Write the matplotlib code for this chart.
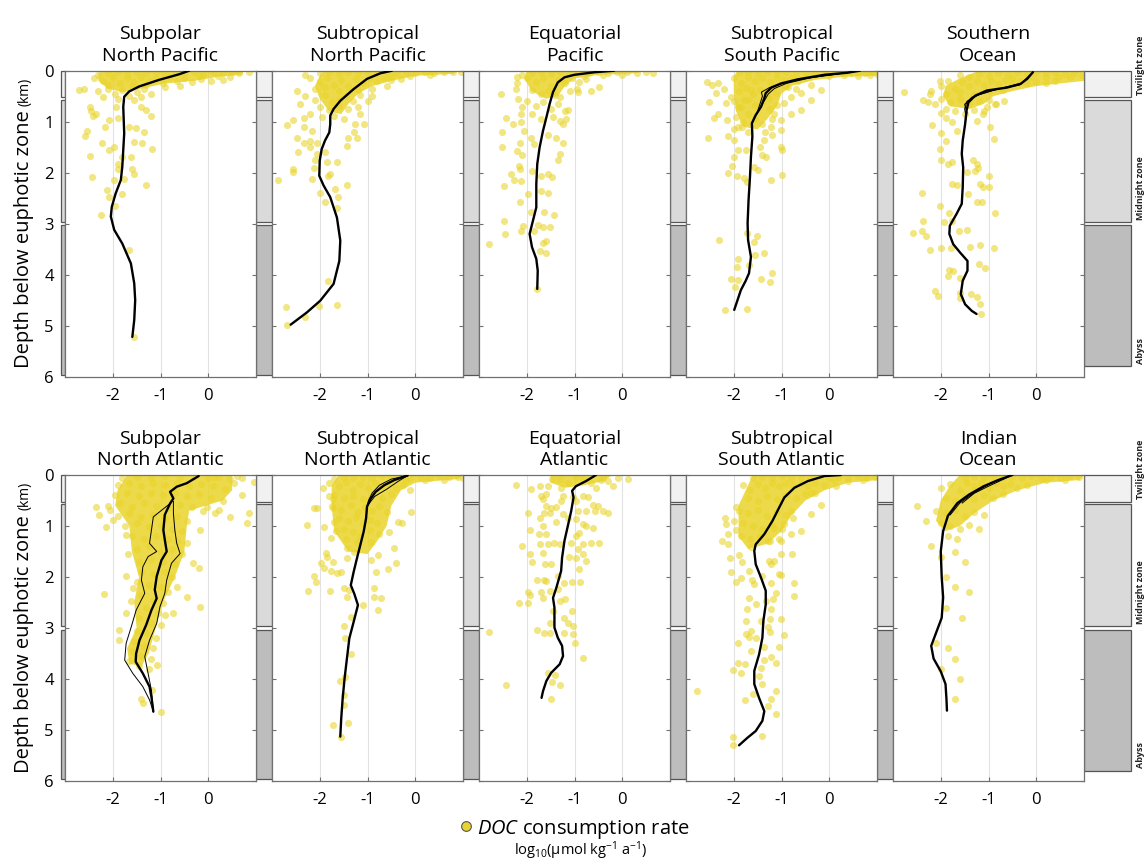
import matplotlib
matplotlib.use("Agg")
import matplotlib.pyplot as plt
from matplotlib.patches import Rectangle
from matplotlib.lines import Line2D

plt.rcParams['font.family'] = ['Open Sans', 'DejaVu Sans']
plt.rcParams['axes.unicode_minus'] = False
plt.rcParams['mathtext.fontset'] = 'custom'
plt.rcParams['mathtext.rm'] = 'Open Sans'
plt.rcParams['mathtext.it'] = 'Open Sans:italic'

# ---- data: (log10 rate, depth km) ----
titles = ['Subpolar\nNorth Pacific', 'Subtropical\nNorth Pacific', 'Equatorial\nPacific',
          'Subtropical\nSouth Pacific', 'Southern\nOcean',
          'Subpolar\nNorth Atlantic', 'Subtropical\nNorth Atlantic', 'Equatorial\nAtlantic',
          'Subtropical\nSouth Atlantic', 'Indian\nOcean']

xticks = [-2, -1, 0]
yticks = [0, 1, 2, 3, 4, 5, 6]

zone_names = ['Twilight zone', 'Midnight zone', 'Abyss']
zone_top = [0.0, 0.57, 3.03]
zone_bottom = [0.52, 2.97, 5.97]
zone_colors = ['#f1f1f1', '#dadada', '#bdbdbd']

spnp_line = [(-0.40, 0.0), (-0.61, 0.07), (-1.03, 0.18), (-1.45, 0.31), (-1.66, 0.41), (-1.76, 0.51),
             (-1.78, 0.71), (-1.76, 1.23), (-1.80, 1.88), (-1.83, 2.14), (-1.94, 2.41), (-2.02, 2.67),
             (-2.04, 2.86), (-1.97, 3.12), (-1.80, 3.39), (-1.62, 3.78), (-1.55, 4.17), (-1.53, 4.50),
             (-1.55, 4.89), (-1.59, 5.22)]
spnp_thin = []
spnp_core = [(-2.2, 0.0), (0.75, 0.0), (0.7, 0.08), (0.2, 0.12), (-0.3, 0.2), (-0.9, 0.25), (-1.4, 0.35),
             (-1.8, 0.42), (-2.1, 0.35), (-2.3, 0.2), (-2.3, 0.05)]
spnp_pts = [(-2.3, 0.08), (-2.1, 0.05), (-1.9, 0.03), (-1.7, 0.06), (-1.5, 0.02), (-1.3, 0.05), (-1.1, 0.03),
            (-0.9, 0.06), (-0.7, 0.02), (-0.5, 0.05), (-0.3, 0.03), (-0.1, 0.06), (0.1, 0.02), (0.3, 0.05),
            (0.5, 0.03), (0.65, 0.04), (0.85, 0.02), (-0.2, 0.1), (0.2, 0.1), (0.45, 0.12),
            (-2.4, 0.15), (-2.2, 0.2), (-2.0, 0.12), (-1.85, 0.25), (-1.7, 0.15), (-1.55, 0.22), (-1.4, 0.12),
            (-1.25, 0.2), (-1.1, 0.15), (-0.95, 0.25), (-0.8, 0.12), (-0.65, 0.2), (-0.5, 0.15), (-0.35, 0.22),
            (-0.15, 0.17), (0.05, 0.2), (0.3, 0.18), (-2.1, 0.28), (-1.6, 0.3), (-1.3, 0.28), (-0.9, 0.32),
            (-0.6, 0.3), (-2.6, 0.35), (-2.3, 0.4), (-2.1, 0.35), (-1.95, 0.45), (-1.8, 0.38), (-1.65, 0.5),
            (-1.5, 0.42), (-1.35, 0.36), (-1.2, 0.45), (-2.2, 0.52), (-1.9, 0.55), (-1.55, 0.58), (-1.4, 0.52),
            (-2.7, 0.38),
            (-2.48, 0.72), (-2.46, 0.80), (-2.41, 0.89), (-2.54, 1.18), (-2.58, 1.28), (-2.23, 1.41),
            (-1.97, 1.50), (-2.48, 1.67), (-2.08, 1.56), (-1.66, 1.10), (-1.52, 1.13), (-1.34, 1.20),
            (-1.20, 0.89), (-1.31, 0.77), (-1.41, 0.72), (-1.94, 0.71), (-1.90, 0.92), (-2.08, 0.97),
            (-1.17, 1.54), (-1.55, 1.39), (-1.38, 1.42), (-1.80, 1.69), (-1.62, 1.69), (-1.88, 1.82),
            (-1.90, 1.92), (-1.59, 1.93), (-1.55, 2.03), (-2.43, 2.08), (-1.97, 2.14), (-1.76, 2.13),
            (-1.31, 2.25), (-2.11, 2.34), (-2.08, 2.47), (-1.81, 2.41), (-2.25, 2.83), (-1.95, 2.65),
            (-1.66, 3.52), (-1.55, 5.22), (-2.36, 0.84), (-2.16, 1.10)]

stnp_line = [(-0.49, 0.0), (-0.73, 0.05), (-1.01, 0.16), (-1.29, 0.36), (-1.57, 0.59), (-1.71, 0.75),
             (-1.78, 0.88), (-1.78, 1.05), (-1.80, 1.21), (-1.89, 1.37), (-1.96, 1.54), (-2.0, 1.76),
             (-2.01, 2.06), (-1.92, 2.25), (-1.78, 2.48), (-1.64, 2.88), (-1.57, 3.33), (-1.59, 3.73),
             (-1.71, 4.18), (-1.99, 4.51), (-2.27, 4.74), (-2.61, 4.98)]
stnp_thin = []
stnp_core = [(-1.9, 0.0), (0.9, 0.0), (0.8, 0.06), (0.0, 0.1), (-0.5, 0.2), (-0.9, 0.3), (-1.2, 0.45),
             (-1.4, 0.65), (-1.55, 0.85), (-1.8, 0.8), (-2.0, 0.55), (-2.1, 0.3), (-2.0, 0.1)]
stnp_pts = [(-2.3, 0.08), (-2.0, 0.05), (-1.8, 0.03), (-1.6, 0.06), (-1.4, 0.02), (-1.2, 0.05), (-1.0, 0.03),
            (-0.8, 0.05), (-0.6, 0.02), (-0.4, 0.04), (-0.2, 0.02), (0.0, 0.05), (0.2, 0.02), (0.4, 0.04),
            (0.6, 0.02), (0.8, 0.03), (0.95, 0.02), (-0.5, 0.1), (-0.1, 0.1), (0.3, 0.08),
            (-2.2, 0.15), (-2.0, 0.22), (-1.85, 0.14), (-1.7, 0.28), (-1.55, 0.18), (-1.4, 0.3), (-1.25, 0.16),
            (-1.1, 0.25), (-0.95, 0.15), (-0.8, 0.2), (-0.65, 0.14), (-0.5, 0.18), (-0.3, 0.16), (-0.6, 0.3),
            (-0.9, 0.35), (-1.2, 0.38), (-1.6, 0.4), (-2.1, 0.35), (-1.9, 0.32),
            (-2.3, 0.5), (-2.1, 0.58), (-1.9, 0.48), (-1.75, 0.62), (-1.6, 0.55), (-1.45, 0.5), (-1.3, 0.6),
            (-1.15, 0.48), (-2.0, 0.72), (-1.8, 0.78), (-1.6, 0.7), (-1.4, 0.75), (-1.2, 0.72), (-2.2, 0.85),
            (-1.95, 0.9), (-1.7, 0.88), (-1.5, 0.95), (-1.0, 0.6), (-0.9, 0.5),
            (-2.68, 1.06), (-2.57, 0.97), (-2.48, 1.32), (-2.34, 1.41), (-2.20, 1.37), (-2.06, 1.41),
            (-2.20, 1.50), (-2.45, 1.60), (-2.06, 1.63), (-1.89, 1.60), (-2.57, 1.93), (-2.57, 1.99),
            (-2.87, 2.14), (-2.13, 1.90), (-2.10, 1.76), (-1.85, 1.80), (-1.64, 1.80), (-1.78, 2.03),
            (-1.82, 2.06), (-2.17, 2.12), (-1.43, 2.25), (-1.68, 2.32), (-1.99, 2.39), (-1.61, 2.48),
            (-1.89, 2.58), (-1.64, 2.70), (-2.31, 4.82), (-2.71, 4.64), (-2.01, 4.61), (-1.64, 4.59),
            (-1.82, 4.12), (-2.69, 4.99), (-1.40, 1.31), (-1.21, 1.32), (-1.26, 1.05), (-1.08, 1.05),
            (-1.15, 0.85), (-1.29, 1.21), (-1.43, 1.47), (-2.34, 1.11), (-2.17, 1.18), (-2.41, 0.65),
            (-2.34, 0.92), (-2.48, 0.39)]

eqp_line = [(-0.17, 0.0), (-0.58, 0.03), (-1.0, 0.08), (-1.21, 0.13), (-1.35, 0.23), (-1.45, 0.42),
            (-1.52, 0.65), (-1.59, 0.92), (-1.66, 1.18), (-1.73, 1.50), (-1.78, 1.83), (-1.80, 2.22),
            (-1.80, 2.68), (-1.87, 2.94), (-1.94, 3.20), (-1.89, 3.46), (-1.80, 3.69), (-1.77, 3.92),
            (-1.78, 4.28)]
eqp_thin = []
eqp_core = [(-2.0, 0.0), (0.5, 0.0), (0.3, 0.05), (-0.5, 0.08), (-1.0, 0.15), (-1.2, 0.3), (-1.35, 0.5),
            (-1.6, 0.55), (-1.9, 0.4), (-2.05, 0.15)]
eqp_pts = [(-2.1, 0.08), (-1.9, 0.05), (-1.7, 0.03), (-1.5, 0.06), (-1.3, 0.02), (-1.1, 0.05), (-0.9, 0.03),
           (-0.7, 0.05), (-0.5, 0.02), (-0.3, 0.04), (-0.1, 0.03), (0.1, 0.02), (0.3, 0.04), (0.5, 0.02),
           (0.65, 0.05), (-0.8, 0.1), (-0.4, 0.09), (0.0, 0.08),
           (-2.0, 0.15), (-1.8, 0.22), (-1.65, 0.14), (-1.5, 0.3), (-1.35, 0.18), (-1.2, 0.25), (-1.05, 0.15),
           (-0.9, 0.22), (-0.75, 0.16), (-1.9, 0.38), (-1.7, 0.45), (-1.55, 0.4), (-1.4, 0.48), (-1.1, 0.4),
           (-0.95, 0.35), (-2.2, 0.25), (-2.0, 0.6), (-1.8, 0.7), (-1.65, 0.62), (-1.5, 0.75), (-1.35, 0.65),
           (-1.2, 0.8), (-1.9, 0.85), (-1.7, 0.95), (-1.45, 0.9), (-1.3, 0.98), (-2.1, 0.72),
           (-2.54, 0.46), (-2.20, 0.13), (-2.22, 0.36), (-2.19, 0.56), (-2.43, 0.92), (-2.12, 0.85),
           (-2.29, 1.05), (-2.52, 1.21), (-2.12, 1.01), (-2.05, 1.18), (-2.15, 1.41), (-2.52, 1.49),
           (-2.20, 1.58), (-2.10, 1.65), (-1.91, 1.31), (-1.84, 1.44), (-1.56, 1.27), (-1.38, 1.31),
           (-1.24, 1.41), (-1.31, 1.63), (-1.35, 1.76), (-2.17, 1.86), (-2.15, 1.93), (-2.33, 2.03),
           (-2.26, 2.14), (-2.13, 2.16), (-1.90, 1.97), (-1.70, 2.06), (-1.56, 2.03), (-1.48, 2.09),
           (-2.48, 2.27), (-1.98, 2.42), (-1.70, 2.35), (-1.56, 2.39), (-2.15, 2.58), (-1.91, 2.78),
           (-1.63, 2.78), (-1.43, 2.82), (-2.47, 2.94), (-2.08, 3.04), (-1.77, 3.03), (-1.66, 3.07),
           (-1.52, 3.07), (-2.45, 3.20), (-1.84, 3.14), (-2.12, 3.15), (-2.80, 3.40), (-1.66, 3.37),
           (-1.59, 3.33), (-1.73, 3.53), (-1.59, 3.58), (-1.78, 4.28), (-1.14, 0.78), (-1.17, 0.95),
           (-1.24, 1.05), (-1.31, 0.52), (-0.93, 0.42), (-0.48, 0.31), (-0.65, 0.39)]

stsp_line = [(0.64, 0.0), (0.38, 0.04), (-0.10, 0.08), (-0.66, 0.17), (-1.01, 0.25), (-1.21, 0.33),
             (-1.33, 0.44), (-1.36, 0.54), (-1.43, 0.71), (-1.54, 0.87), (-1.62, 1.03), (-1.61, 1.29),
             (-1.64, 1.69), (-1.66, 2.08), (-1.69, 2.54), (-1.71, 2.99), (-1.70, 3.32), (-1.64, 3.65),
             (-1.68, 3.97), (-1.75, 4.12), (-1.85, 4.30), (-1.99, 4.69)]
stsp_thin = [[(0.64, 0.0), (0.2, 0.06), (-0.5, 0.15), (-0.95, 0.24), (-1.25, 0.33), (-1.42, 0.42),
              (-1.40, 0.50), (-1.44, 0.62), (-1.52, 0.85)],
             [(0.64, 0.0), (0.3, 0.05), (-0.4, 0.14), (-0.9, 0.25), (-1.15, 0.35), (-1.28, 0.46),
              (-1.34, 0.56), (-1.50, 0.80)]]
stsp_core = [(-1.9, 0.0), (1.0, 0.0), (1.0, 0.1), (0.3, 0.12), (-0.3, 0.18), (-0.8, 0.3), (-1.0, 0.45),
             (-1.1, 0.7), (-1.3, 0.95), (-1.5, 1.15), (-1.8, 1.1), (-1.95, 0.8), (-2.0, 0.4), (-2.0, 0.1)]
stsp_pts = [(-1.9, 0.05), (-1.7, 0.03), (-1.5, 0.06), (-1.3, 0.02), (-1.1, 0.05), (-0.9, 0.03), (-0.7, 0.06),
            (-0.5, 0.02), (-0.3, 0.05), (-0.1, 0.03), (0.1, 0.05), (0.3, 0.02), (0.45, 0.04), (0.6, 0.02),
            (0.75, 0.05), (0.9, 0.03), (1.0, 0.06), (0.85, 0.09), (0.6, 0.1), (0.3, 0.09), (0.0, 0.1),
            (-0.4, 0.1), (-2.0, 0.15), (-1.85, 0.25), (-1.7, 0.12), (-1.55, 0.2), (-1.4, 0.15), (-1.25, 0.22),
            (-1.1, 0.14), (-0.95, 0.18), (-0.8, 0.14), (-0.65, 0.2), (-0.5, 0.15), (-1.9, 0.4), (-1.75, 0.33),
            (-1.6, 0.45), (-1.45, 0.38), (-1.3, 0.45), (-1.15, 0.3), (-0.9, 0.3), (-0.7, 0.35), (-2.2, 0.35),
            (-2.0, 0.6), (-1.85, 0.72), (-1.7, 0.58), (-1.55, 0.68), (-1.4, 0.62), (-1.25, 0.75), (-1.1, 0.68),
            (-1.95, 0.9), (-1.8, 1.0), (-1.55, 0.95), (-1.4, 1.05), (-1.2, 0.95), (-2.0, 1.15), (-1.7, 1.2),
            (-1.35, 1.2),
            (-2.55, 0.22), (-2.45, 0.28), (-2.34, 0.25), (-2.38, 0.44), (-2.52, 0.61), (-2.17, 0.64),
            (-2.34, 0.84), (-2.41, 0.93), (-2.15, 0.97), (-2.53, 1.31), (-2.13, 1.28), (-1.99, 1.36),
            (-1.99, 1.69), (-1.92, 1.56), (-1.75, 1.56), (-2.03, 1.87), (-2.13, 2.0), (-1.94, 2.07),
            (-1.78, 2.11), (-1.73, 2.18), (-1.57, 1.88), (-1.50, 1.95), (-1.40, 1.65), (-1.33, 1.69),
            (-1.45, 1.49), (-1.22, 2.14), (-1.0, 2.05), (-1.01, 1.49), (-0.98, 1.56), (-1.36, 1.36),
            (-1.19, 1.26), (-2.31, 3.32), (-1.73, 3.19), (-1.52, 3.25), (-1.57, 3.35), (-1.36, 3.57),
            (-1.55, 3.61), (-1.92, 3.70), (-1.94, 3.84), (-1.68, 3.81), (-2.06, 4.08), (-1.91, 4.10),
            (-1.98, 4.25), (-1.19, 3.97), (-1.43, 4.08), (-1.24, 4.14), (-2.19, 4.69), (-1.73, 4.68),
            (-1.01, 1.16), (-1.01, 0.97), (-0.80, 0.84), (-0.59, 0.77), (-0.38, 0.58), (-0.17, 0.38),
            (-1.22, 1.10), (-1.15, 0.84), (-0.94, 0.64), (-0.80, 0.51), (-0.59, 0.44), (-0.38, 0.28),
            (-1.26, 0.54), (-1.12, 0.44), (-0.87, 0.31), (-2.06, 0.51), (-1.92, 0.71), (-1.78, 0.58),
            (-1.64, 0.38), (-1.71, 0.84), (-1.82, 1.10), (-1.92, 1.10)]

so_line = [(-0.07, 0.03), (-0.19, 0.16), (-0.33, 0.26), (-0.61, 0.33), (-1.04, 0.39), (-1.28, 0.49),
           (-1.42, 0.62), (-1.46, 0.78), (-1.49, 1.05), (-1.54, 1.37), (-1.56, 1.63), (-1.53, 1.90),
           (-1.54, 2.29), (-1.56, 2.61), (-1.67, 2.81), (-1.81, 3.04), (-1.82, 3.20), (-1.74, 3.40),
           (-1.60, 3.56), (-1.44, 3.73), (-1.44, 3.92), (-1.54, 4.12), (-1.58, 4.38), (-1.49, 4.58),
           (-1.35, 4.71), (-1.25, 4.77)]
so_thin = [[(-0.07, 0.03), (-0.3, 0.24), (-0.8, 0.36), (-1.2, 0.47), (-1.45, 0.60), (-1.50, 0.75),
            (-1.47, 0.90), (-1.50, 1.10)],
           [(-0.07, 0.03), (-0.35, 0.28), (-0.9, 0.38), (-1.35, 0.52), (-1.50, 0.66), (-1.45, 0.82),
            (-1.49, 1.05)]]
so_core = [(-1.2, 0.0), (1.0, 0.0), (1.0, 0.2), (0.5, 0.25), (0.0, 0.3), (-0.5, 0.4), (-0.9, 0.5),
           (-1.1, 0.65), (-1.4, 0.75), (-1.8, 0.7), (-1.95, 0.5), (-1.9, 0.3), (-1.6, 0.15)]
so_pts = [(-1.6, 0.08), (-1.4, 0.12), (-1.2, 0.06), (-1.0, 0.1), (-0.8, 0.05), (-0.6, 0.08), (-0.4, 0.03),
          (-0.2, 0.06), (0.0, 0.02), (0.2, 0.05), (0.4, 0.03), (0.6, 0.06), (0.8, 0.04), (0.95, 0.08),
          (0.7, 0.12), (0.45, 0.12), (0.2, 0.13), (-0.1, 0.13), (-0.5, 0.14),
          (-2.0, 0.3), (-1.85, 0.2), (-1.7, 0.35), (-1.55, 0.22), (-1.4, 0.3), (-1.25, 0.2), (-1.1, 0.28),
          (-0.95, 0.2), (-0.8, 0.26), (-0.65, 0.18), (-0.5, 0.25), (-0.35, 0.2), (-0.2, 0.25), (0.0, 0.22),
          (0.2, 0.25), (0.4, 0.2), (-1.9, 0.45), (-1.6, 0.42), (-1.3, 0.45), (-1.0, 0.4), (-0.7, 0.38),
          (-2.2, 0.4), (-2.0, 0.55), (-1.8, 0.62), (-1.6, 0.55), (-1.4, 0.65), (-1.2, 0.6), (-1.0, 0.58),
          (-0.85, 0.65), (-1.9, 0.75), (-1.7, 0.8), (-1.5, 0.85), (-1.3, 0.78), (-1.1, 0.8),
          (-2.76, 0.41), (-2.37, 0.58), (-2.27, 0.62), (-2.02, 0.21), (-2.23, 0.46), (-2.13, 0.65),
          (-1.99, 0.82), (-2.18, 1.06), (-1.88, 0.92), (-1.77, 1.01), (-1.67, 1.18), (-1.99, 1.23),
          (-1.88, 1.37), (-2.02, 1.54), (-1.99, 1.76), (-1.85, 1.83), (-1.77, 1.80), (-1.33, 1.76),
          (-1.25, 1.83), (-1.21, 1.90), (-1.46, 1.99), (-1.28, 1.96), (-1.0, 2.06), (-1.18, 2.22),
          (-1.11, 2.29), (-1.0, 2.29), (-1.42, 2.42), (-1.77, 2.22), (-1.67, 2.25), (-2.39, 2.40),
          (-2.02, 2.65), (-1.25, 2.58), (-1.14, 2.58), (-0.86, 2.80), (-1.82, 2.80), (-2.37, 2.94),
          (-2.58, 3.18), (-2.39, 3.15), (-2.30, 3.25), (-1.93, 2.96), (-1.77, 2.94), (-1.61, 3.15),
          (-1.46, 3.12), (-1.99, 3.48), (-1.79, 3.48), (-2.23, 3.52), (-1.39, 3.46), (-1.18, 3.41),
          (-0.88, 3.48), (-1.83, 3.91), (-1.75, 3.93), (-1.85, 4.02), (-1.19, 3.80), (-1.07, 3.87),
          (-1.60, 4.07), (-2.11, 4.31), (-2.06, 4.42), (-1.60, 4.35), (-1.37, 4.38), (-1.25, 4.43),
          (-1.18, 4.58), (-1.16, 4.77), (-1.60, 4.46), (-0.96, 1.11), (-0.89, 1.34), (-1.11, 0.85),
          (-1.04, 0.72), (-0.86, 0.65), (-0.68, 0.59), (-1.25, 0.98)]

spna_line = [(-0.20, 0.02), (-0.45, 0.16), (-0.66, 0.23), (-0.80, 0.33), (-0.73, 0.46), (-0.80, 0.56),
             (-0.91, 0.78), (-0.94, 1.08), (-0.91, 1.27), (-0.87, 1.50), (-0.98, 1.67), (-1.08, 1.99),
             (-1.12, 2.25), (-1.08, 2.42), (-1.19, 2.65), (-1.30, 2.94), (-1.44, 3.24), (-1.51, 3.50),
             (-1.52, 3.66), (-1.37, 3.89), (-1.23, 4.15), (-1.19, 4.35), (-1.15, 4.64)]
spna_thin = [[(-0.80, 0.56), (-1.15, 0.82), (-1.19, 1.08), (-1.23, 1.34), (-1.08, 1.50), (-1.26, 1.60),
              (-1.37, 1.80), (-1.40, 2.06), (-1.33, 2.32), (-1.51, 2.65), (-1.61, 2.97), (-1.72, 3.30),
              (-1.75, 3.63), (-1.58, 3.89), (-1.37, 4.15), (-1.23, 4.41), (-1.15, 4.64)],
             [(-0.73, 0.52), (-0.73, 0.75), (-0.70, 1.08), (-0.66, 1.34), (-0.59, 1.54), (-0.77, 1.73),
              (-0.87, 2.06), (-0.91, 2.32), (-1.01, 2.58), (-1.08, 2.91), (-1.23, 3.24), (-1.33, 3.56),
              (-1.26, 3.89), (-1.19, 4.22), (-1.15, 4.64)]]
spna_core = [(-1.7, 0.0), (0.5, 0.0), (0.5, 0.3), (0.3, 0.5), (-0.4, 0.7), (-0.45, 1.0), (-0.5, 1.5),
             (-0.7, 2.0), (-0.95, 2.5), (-1.1, 3.0), (-1.25, 3.5), (-1.4, 3.75), (-1.65, 3.7), (-1.7, 3.4),
             (-1.5, 3.0), (-1.55, 2.5), (-1.45, 2.0), (-1.6, 1.5), (-1.65, 1.0), (-1.95, 0.6), (-1.9, 0.3)]
spna_pts = [(-1.8, 0.05), (-1.5, 0.03), (-1.2, 0.06), (-0.9, 0.02), (-0.6, 0.05), (-0.3, 0.03), (0.0, 0.06),
            (0.2, 0.04), (0.45, 0.08), (0.7, 0.05), (-1.9, 0.2), (-1.65, 0.15), (-1.4, 0.22), (-1.15, 0.15),
            (-0.9, 0.2), (-0.65, 0.15), (-0.4, 0.22), (-0.15, 0.18), (0.1, 0.22), (0.35, 0.28),
            (-1.95, 0.4), (-1.7, 0.35), (-1.45, 0.42), (-1.2, 0.35), (-0.95, 0.4), (-0.7, 0.35), (-0.45, 0.42),
            (-0.2, 0.38), (0.05, 0.45), (0.3, 0.5), (-2.1, 0.6), (-1.85, 0.55), (-1.6, 0.62), (-1.35, 0.55),
            (-1.1, 0.6), (-0.85, 0.65), (-0.6, 0.58), (-0.35, 0.62), (-0.1, 0.7), (0.15, 0.75),
            (-1.9, 0.8), (-1.65, 0.75), (-1.4, 0.82), (-1.15, 0.78), (-0.9, 0.85), (-0.65, 0.8), (-0.45, 0.9),
            (-1.75, 1.0), (-1.5, 0.95), (-1.25, 1.02), (-1.0, 0.98), (-0.75, 1.05), (-0.55, 1.1),
            (-1.6, 1.2), (-1.35, 1.25), (-1.1, 1.2), (-0.85, 1.25), (-0.65, 1.3), (-1.5, 1.45), (-1.25, 1.4),
            (-1.0, 1.5), (-0.75, 1.45), (-0.55, 1.55), (-1.45, 1.7), (-1.2, 1.65), (-0.95, 1.7), (-0.7, 1.75),
            (-1.4, 1.9), (-1.15, 1.95), (-0.9, 1.9), (-0.75, 2.0), (-1.5, 2.1), (-1.25, 2.15), (-1.0, 2.2),
            (-0.85, 2.3), (-1.4, 2.35), (-1.15, 2.45), (-0.95, 2.5), (-1.3, 2.6), (-1.05, 2.7), (-0.9, 2.75),
            (-1.45, 2.8), (-1.2, 2.9), (-1.0, 2.95), (-1.5, 3.05), (-1.3, 3.1), (-1.1, 3.2), (-1.55, 3.25),
            (-1.35, 3.35), (-1.15, 3.4), (-1.6, 3.45), (-1.4, 3.55), (-1.2, 3.6), (-1.65, 3.65),
            (-1.45, 3.75), (-1.25, 3.8),
            (-2.35, 0.63), (-2.28, 0.78), (-2.15, 1.01), (-2.06, 0.69), (-2.0, 0.88), (-2.18, 2.34),
            (-0.20, 1.83), (-0.17, 2.58), (0.82, 0.95), (0.86, 0.75), (0.46, 0.82), (0.54, 0.16),
            (0.96, 0.13), (0.61, 0.02), (0.11, 0.03), (0.71, 0.39), (0.22, 0.69), (-1.08, 3.73),
            (-1.17, 4.22), (-1.40, 4.40), (-1.37, 4.48), (-0.98, 4.64), (-1.86, 3.03), (-1.87, 3.24),
            (-1.72, 2.71), (-1.61, 2.48), (-1.58, 2.22), (-1.72, 1.99), (-1.68, 1.54), (-1.72, 1.18),
            (-0.45, 2.39), (-0.73, 2.71), (-0.66, 2.19), (-0.31, 1.73), (-0.45, 1.34), (-0.17, 1.08),
            (-0.03, 0.62)]

stna_line = [(-0.16, 0.01), (-0.44, 0.10), (-0.65, 0.20), (-0.83, 0.33), (-0.93, 0.46), (-1.01, 0.62),
             (-1.03, 0.85), (-1.08, 1.11), (-1.15, 1.37), (-1.22, 1.63), (-1.29, 1.90), (-1.35, 2.16),
             (-1.28, 2.32), (-1.20, 2.55), (-1.29, 2.88), (-1.38, 3.20), (-1.43, 3.59), (-1.48, 3.99),
             (-1.52, 4.38), (-1.55, 4.77), (-1.57, 5.13)]
stna_thin = [[(-0.16, 0.01), (-0.5, 0.08), (-0.75, 0.20), (-0.90, 0.35), (-0.98, 0.50), (-1.01, 0.62)],
             [(-0.16, 0.01), (-0.35, 0.12), (-0.6, 0.28), (-0.85, 0.42), (-1.0, 0.60)]]
stna_core = [(-1.6, 0.0), (1.0, 0.0), (0.9, 0.08), (0.0, 0.15), (-0.3, 0.3), (-0.5, 0.6), (-0.6, 1.0),
             (-0.8, 1.3), (-1.0, 1.55), (-1.4, 1.5), (-1.7, 1.1), (-1.75, 0.6), (-1.75, 0.2)]
stna_pts = [(-1.7, 0.07), (-1.5, 0.04), (-1.3, 0.06), (-1.1, 0.03), (-0.9, 0.05), (-0.7, 0.02), (-0.5, 0.05),
            (-0.3, 0.03), (-0.1, 0.06), (0.1, 0.03), (0.3, 0.05), (0.5, 0.02), (0.7, 0.04), (0.9, 0.03),
            (1.0, 0.06), (0.6, 0.09), (0.2, 0.1), (-0.2, 0.1),
            (-1.8, 0.15), (-1.6, 0.22), (-1.45, 0.14), (-1.3, 0.3), (-1.15, 0.18), (-1.0, 0.25), (-0.85, 0.15),
            (-0.7, 0.22), (-0.55, 0.16), (-0.4, 0.25), (-0.25, 0.2), (-0.1, 0.3), (-1.7, 0.4), (-1.5, 0.45),
            (-1.3, 0.42), (-1.1, 0.48), (-0.9, 0.4), (-0.7, 0.45), (-0.5, 0.38),
            (-1.75, 0.6), (-1.55, 0.68), (-1.35, 0.58), (-1.2, 0.72), (-1.05, 0.62), (-0.9, 0.7), (-0.75, 0.6),
            (-0.6, 0.72), (-1.6, 0.85), (-1.4, 0.9), (-1.25, 0.82), (-1.1, 0.95), (-0.95, 0.88), (-0.8, 0.95),
            (-1.5, 1.05), (-1.3, 1.12), (-1.15, 1.2), (-0.95, 1.08), (-0.75, 1.15), (-1.45, 1.25),
            (-2.26, 0.98), (-2.13, 0.65), (-2.06, 0.65), (-1.94, 0.26), (-1.91, 1.01), (-1.80, 0.41),
            (-1.73, 0.47), (-1.73, 0.65), (-1.70, 0.92), (-1.66, 1.09), (-1.77, 1.24), (-1.87, 1.52),
            (-1.85, 1.60), (-1.98, 1.73), (-1.91, 1.83), (-1.73, 1.70), (-1.77, 1.88), (-1.56, 1.90),
            (-1.64, 1.93), (-2.12, 1.99), (-2.08, 2.09), (-2.24, 2.27), (-1.78, 2.27), (-1.49, 2.22),
            (-1.38, 2.25), (-1.42, 2.39), (-1.35, 2.78), (-1.50, 2.96), (-1.48, 3.20), (-1.35, 3.50),
            (-1.48, 3.96), (-1.57, 4.04), (-1.50, 4.31), (-1.49, 4.50), (-1.73, 4.90), (-1.41, 4.87),
            (-1.56, 5.13), (-1.10, 2.55), (-0.87, 2.22), (-0.79, 2.65), (-0.72, 2.42), (-0.86, 2.39),
            (-0.57, 1.84), (-0.41, 1.73), (-0.44, 1.44), (-0.78, 1.57), (-0.93, 1.67), (-0.83, 1.90),
            (-0.37, 0.92), (-0.27, 0.95), (-0.09, 0.72), (-0.55, 1.11), (-0.93, 1.31), (-1.21, 1.31),
            (-1.28, 1.50), (-1.42, 1.63), (-1.42, 1.44)]

eqa_line = [(-0.55, 0.0), (-0.76, 0.12), (-0.97, 0.22), (-1.05, 0.31), (-1.02, 0.44), (-1.07, 0.71),
            (-1.14, 1.0), (-1.21, 1.29), (-1.26, 1.62), (-1.28, 1.88), (-1.38, 2.21), (-1.45, 2.41),
            (-1.42, 2.60), (-1.42, 2.99), (-1.35, 3.19), (-1.26, 3.35), (-1.24, 3.55), (-1.31, 3.71),
            (-1.49, 3.88), (-1.59, 4.04), (-1.66, 4.24), (-1.69, 4.37)]
eqa_thin = []
eqa_core = [(-1.5, 0.0), (-0.2, 0.0), (-0.4, 0.12), (-0.8, 0.2), (-1.2, 0.25), (-1.5, 0.15)]
eqa_pts = [(-2.22, 0.20), (-1.91, 0.28), (-1.73, 0.22), (-1.70, 0.41), (-1.59, 0.38), (-1.56, 0.22),
           (-1.47, 0.08), (-1.31, 0.08), (-1.28, 0.25), (-1.14, 0.15), (-0.97, 0.05), (-0.83, 0.08),
           (-0.65, 0.15), (-0.55, 0.25), (-0.44, 0.10), (-0.41, 0.05), (-0.30, 0.12), (-0.20, 0.22),
           (-0.09, 0.05), (0.12, 0.07), (-1.66, 0.48), (-1.59, 0.61), (-1.49, 0.64), (-1.38, 0.63),
           (-1.28, 0.51), (-1.24, 0.41), (-1.03, 0.44), (-0.97, 0.51), (-0.83, 0.41), (-0.72, 0.44),
           (-0.62, 0.58), (-0.51, 0.61), (-0.41, 0.71), (-0.30, 0.74), (-0.58, 0.71), (-0.76, 0.71),
           (-0.93, 0.71), (-1.98, 0.74), (-1.73, 0.84), (-1.63, 0.74), (-1.52, 0.74), (-1.38, 0.93),
           (-1.24, 0.77), (-1.14, 0.84), (-0.97, 0.87), (-0.83, 0.97), (-0.76, 1.0), (-0.62, 1.03),
           (-1.66, 1.0), (-1.94, 1.08), (-1.75, 1.16), (-1.59, 1.16), (-1.42, 1.33), (-1.73, 1.36),
           (-2.10, 1.39), (-1.94, 1.54), (-1.66, 1.52), (-1.56, 1.35), (-1.31, 1.36), (-1.07, 1.33),
           (-0.83, 1.36), (-0.65, 1.34), (-0.49, 1.33), (-0.97, 1.20), (-0.90, 1.13), (-0.93, 1.46),
           (-0.83, 1.54), (-0.76, 1.69), (-0.90, 1.85), (-0.97, 1.63), (-1.12, 1.60), (-1.89, 1.70),
           (-1.61, 1.75), (-1.49, 1.75), (-1.35, 1.98), (-1.78, 2.05), (-1.63, 2.05), (-1.59, 2.08),
           (-1.05, 2.09), (-0.88, 2.09), (-1.21, 2.11), (-1.98, 2.29), (-1.93, 2.36), (-1.70, 2.29),
           (-1.52, 2.27), (-1.35, 2.24), (-2.17, 2.50), (-1.98, 2.50), (-1.66, 2.41), (-1.31, 2.47),
           (-1.19, 2.44), (-1.45, 2.67), (-1.06, 2.67), (-1.23, 2.80), (-1.14, 2.90), (-1.51, 2.90),
           (-1.03, 2.96), (-1.78, 3.04), (-1.63, 3.09), (-1.52, 3.09), (-1.23, 3.09), (-1.03, 3.12),
           (-1.0, 3.29), (-2.80, 3.08), (-0.83, 3.58), (-1.56, 3.88), (-1.40, 3.93), (-1.47, 4.05),
           (-1.31, 4.12), (-2.43, 4.12), (-1.49, 4.39)]

stsa_line = [(0.24, 0.0), (-0.10, 0.02), (-0.45, 0.12), (-0.73, 0.25), (-0.94, 0.44), (-1.05, 0.64),
             (-1.19, 0.90), (-1.36, 1.16), (-1.54, 1.36), (-1.57, 1.49), (-1.54, 1.75), (-1.43, 2.01),
             (-1.33, 2.27), (-1.33, 2.54), (-1.38, 2.86), (-1.40, 3.19), (-1.47, 3.52), (-1.57, 3.84),
             (-1.57, 4.10), (-1.47, 4.37), (-1.36, 4.63), (-1.40, 4.82), (-1.54, 5.02), (-1.71, 5.15),
             (-1.89, 5.30)]
stsa_thin = []
stsa_core = [(-1.6, 0.0), (1.0, 0.0), (1.0, 0.1), (0.4, 0.15), (-0.1, 0.3), (-0.5, 0.5), (-0.8, 0.8),
             (-1.0, 1.1), (-1.3, 1.35), (-1.7, 1.45), (-1.9, 1.2), (-1.9, 0.6), (-1.7, 0.2)]
stsa_pts = [(-1.6, 0.06), (-1.4, 0.03), (-1.2, 0.06), (-1.0, 0.02), (-0.8, 0.05), (-0.6, 0.03), (-0.4, 0.06),
            (-0.2, 0.02), (0.0, 0.05), (0.2, 0.03), (0.4, 0.06), (0.6, 0.02), (0.8, 0.05), (0.95, 0.03),
            (0.7, 0.1), (0.4, 0.12), (0.1, 0.1),
            (-1.8, 0.2), (-1.65, 0.3), (-1.5, 0.18), (-1.35, 0.25), (-1.2, 0.15), (-1.05, 0.22), (-0.9, 0.16),
            (-0.75, 0.2), (-0.6, 0.15), (-0.45, 0.22), (-0.3, 0.16), (-0.1, 0.2), (0.15, 0.22), (-1.7, 0.45),
            (-1.5, 0.5), (-1.3, 0.42), (-1.1, 0.48), (-0.9, 0.4), (-0.7, 0.45), (-0.5, 0.38), (-0.3, 0.35),
            (-1.9, 0.7), (-1.7, 0.75), (-1.5, 0.68), (-1.3, 0.8), (-1.1, 0.72), (-0.9, 0.78), (-0.75, 0.85),
            (-1.8, 0.95), (-1.6, 1.0), (-1.4, 1.05), (-1.2, 0.98), (-1.0, 1.05), (-1.85, 1.2), (-1.65, 1.25),
            (-1.45, 1.2), (-1.25, 1.3), (-1.05, 1.25),
            (-2.19, 0.85), (-2.17, 0.97), (-1.96, 0.63), (-1.99, 0.90), (-1.96, 1.08), (-2.24, 1.29),
            (-2.13, 1.36), (-2.08, 1.63), (-1.89, 1.56), (-2.05, 1.90), (-1.96, 2.09), (-1.82, 1.71),
            (-1.68, 1.88), (-1.61, 2.05), (-1.57, 2.14), (-1.40, 1.98), (-1.22, 1.75), (-1.26, 1.69),
            (-1.15, 1.69), (-1.01, 1.54), (-0.77, 1.54), (-1.01, 1.96), (-1.05, 1.95), (-1.21, 2.11),
            (-0.73, 2.12), (-0.73, 2.38), (-1.12, 2.31), (-1.17, 2.44), (-1.33, 2.47), (-1.68, 2.41),
            (-1.73, 2.63), (-1.54, 2.52), (-1.21, 2.63), (-1.01, 2.83), (-1.24, 2.83), (-1.29, 2.99),
            (-1.24, 3.08), (-1.64, 3.05), (-1.68, 3.18), (-1.75, 3.12), (-1.92, 3.30), (-1.06, 3.37),
            (-0.94, 3.14), (-1.36, 3.37), (-1.21, 3.57), (-1.12, 3.68), (-1.36, 3.63), (-1.92, 3.69),
            (-1.77, 3.71), (-2.01, 3.82), (-1.85, 3.88), (-1.42, 3.79), (-1.47, 3.94), (-1.40, 4.10),
            (-1.59, 4.29), (-1.77, 4.42), (-1.12, 4.24), (-1.21, 4.40), (-1.29, 4.53), (-1.12, 4.68),
            (-2.76, 4.24), (-1.40, 5.12), (-2.01, 5.13), (-2.01, 5.30), (-1.64, 3.45), (-1.54, 3.19),
            (-1.43, 2.86), (-1.75, 2.86), (-1.85, 2.01), (-2.13, 1.16), (-1.64, 1.42), (-1.29, 1.29),
            (-1.01, 1.29), (-0.80, 1.16), (-0.59, 1.10), (-0.38, 0.77), (-0.17, 0.58), (-0.38, 0.35),
            (-0.80, 0.71), (-0.94, 0.97), (-1.15, 1.03)]

io_line = [(-0.50, 0.0), (-0.80, 0.10), (-1.10, 0.22), (-1.40, 0.38), (-1.65, 0.55), (-1.85, 0.80),
           (-1.95, 1.10), (-2.0, 1.50), (-1.98, 2.0), (-1.95, 2.40), (-1.98, 2.80), (-2.10, 3.10),
           (-2.20, 3.35), (-2.15, 3.60), (-2.0, 3.85), (-1.90, 4.10), (-1.88, 4.40), (-1.87, 4.62)]
io_thin = [[(-0.50, 0.0), (-0.95, 0.16), (-1.30, 0.35), (-1.60, 0.55), (-1.80, 0.78)],
           [(-0.50, 0.0), (-0.70, 0.09), (-1.00, 0.22), (-1.30, 0.36), (-1.55, 0.55)]]
io_core = [(-1.6, 0.0), (1.0, 0.0), (0.9, 0.1), (0.2, 0.15), (-0.4, 0.3), (-0.9, 0.5), (-1.3, 0.75),
           (-1.6, 1.0), (-1.9, 1.1), (-2.1, 0.9), (-2.0, 0.5), (-1.8, 0.2)]
io_pts = [(-1.5, 0.06), (-1.3, 0.03), (-1.1, 0.06), (-0.9, 0.02), (-0.7, 0.05), (-0.5, 0.03), (-0.3, 0.06),
          (-0.1, 0.02), (0.1, 0.05), (0.3, 0.03), (0.5, 0.06), (0.7, 0.02), (0.9, 0.04), (0.6, 0.1), (0.2, 0.1),
          (-2.0, 0.25), (-1.8, 0.18), (-1.6, 0.3), (-1.45, 0.15), (-1.3, 0.22), (-1.15, 0.15), (-1.0, 0.25),
          (-0.85, 0.16), (-0.7, 0.22), (-0.55, 0.18), (-0.4, 0.25), (-0.2, 0.2), (-1.9, 0.45), (-1.7, 0.5),
          (-1.5, 0.42), (-1.3, 0.48), (-1.1, 0.4), (-0.9, 0.45), (-0.7, 0.38),
          (-2.1, 0.7), (-1.9, 0.75), (-1.7, 0.68), (-1.5, 0.8), (-1.3, 0.72), (-1.1, 0.78), (-2.0, 0.95),
          (-1.8, 1.0), (-1.6, 1.05), (-1.4, 0.98), (-1.2, 1.05), (-1.85, 1.2), (-1.65, 1.25),
          (-2.3, 0.9), (-2.5, 0.6), (-2.2, 1.4), (-2.0, 1.6), (-1.7, 1.5), (-1.5, 1.7), (-1.9, 2.0),
          (-1.7, 2.2), (-1.4, 2.3), (-2.1, 3.3), (-1.85, 3.4), (-1.7, 3.6), (-2.0, 3.8), (-1.6, 4.0),
          (-1.7, 4.4), (-1.9, 2.6), (-1.55, 2.8)]

lines = [spnp_line, stnp_line, eqp_line, stsp_line, so_line,
         spna_line, stna_line, eqa_line, stsa_line, io_line]
thins = [spnp_thin, stnp_thin, eqp_thin, stsp_thin, so_thin,
         spna_thin, stna_thin, eqa_thin, stsa_thin, io_thin]
cores = [spnp_core, stnp_core, eqp_core, stsp_core, so_core,
         spna_core, stna_core, eqa_core, stsa_core, io_core]
points = [spnp_pts, stnp_pts, eqp_pts, stsp_pts, so_pts,
          spna_pts, stna_pts, eqa_pts, stsa_pts, io_pts]

# ---- layout in pixels ----
W, H = 1145, 863
col_left = [65, 272, 479, 686, 893]
ax_w = 191
row_top = [70.7, 475]
ax_h = 306
yellow = '#E9D42A'
frame = '#707070'

fig = plt.figure(figsize=(W / 100, H / 100), dpi=100)


def px_axes(x0, y0, w, h):
    return fig.add_axes([x0 / W, 1 - (y0 + h) / H, w / W, h / H])


def zone_bar(x0, y0, w, last=False):
    bx = px_axes(x0, y0, w, ax_h)
    bx.set_xlim(0, 1)
    bx.set_ylim(6, 0)
    bx.set_axis_off()
    for name, t, b, c in zip(zone_names, zone_top, zone_bottom, zone_colors):
        if last and name == 'Abyss':
            b = 5.8
        bx.add_patch(Rectangle((0, t), 1, b - t, facecolor=c, edgecolor='#555555', lw=0.9, clip_on=False))
        if last:
            bx.text(1.2, b - 0.05, name, transform=bx.get_yaxis_transform(), rotation=90,
                    rotation_mode='anchor', ha='left', va='center', fontsize=6.5, fontweight='bold',
                    color='#222222')
    return bx


for k in range(10):
    r, c = divmod(k, 5)
    x0 = col_left[c]
    y0 = row_top[r]

    # zone bars: sliver on the far left, one between panels, a wide one at the end
    if c == 0:
        zone_bar(x0 - 4, y0, 4)
    if c < 4:
        zone_bar(x0 + ax_w, y0, col_left[c + 1] - x0 - ax_w)
    else:
        zone_bar(x0 + ax_w, y0, 47, last=True)

    ax = px_axes(x0, y0, ax_w, ax_h)
    core = cores[k]
    ax.fill([p[0] for p in core], [p[1] for p in core], color=yellow, alpha=0.85, lw=0, zorder=1.5)
    pts = points[k]
    ax.scatter([p[0] for p in pts], [p[1] for p in pts], s=26, color=yellow, alpha=0.58,
               linewidths=0, zorder=2)
    for th in thins[k]:
        ax.plot([p[0] for p in th], [p[1] for p in th], color='k', lw=0.7, zorder=3)
    ln = lines[k]
    ax.plot([p[0] for p in ln], [p[1] for p in ln], color='k', lw=1.7, zorder=4,
            solid_capstyle='round', solid_joinstyle='round')

    ax.set_xlim(-3, 1)
    ax.set_ylim(6, 0)
    ax.set_xticks(xticks)
    ax.set_yticks(yticks)
    ax.xaxis.grid(True, color='#e2e2e2', lw=0.8)
    ax.set_axisbelow(True)
    for sp in ax.spines.values():
        sp.set_color(frame)
        sp.set_linewidth(0.9)
    ax.tick_params(direction='in', length=3, color=frame, right=True, labelsize=12, pad=8)
    if c > 0:
        ax.tick_params(labelleft=False)
    ax.set_title(titles[k], fontsize=14, linespacing=1.25, pad=7)

    if c == 0:
        fig.text(29 / W, 1 - (y0 + 40) / H, 'Depth below euphotic zone', rotation=90,
                 rotation_mode='anchor', ha='right', va='baseline', fontsize=14.5)
        fig.text(29 / W, 1 - (y0 + 35) / H, '(km)', rotation=90, rotation_mode='anchor',
                 ha='left', va='baseline', fontsize=10)

# legend at the bottom
handle = Line2D([], [], marker='o', ls='', markersize=7, markerfacecolor=yellow,
                markeredgecolor='#555555', markeredgewidth=0.8)
fig.legend([handle], [r'$\mathit{DOC}$ consumption rate'], loc='center',
           bbox_to_anchor=(574 / W, 1 - 829 / H), frameon=False, fontsize=14.5,
           handletextpad=0.15, handlelength=0.8, borderpad=0)
fig.text(581 / W, 1 - 851 / H, r'log$_{10}$(μmol kg$^{-1}$ a$^{-1}$)', ha='center', va='center',
         fontsize=10.5)

fig.savefig('out.png', dpi=100)
